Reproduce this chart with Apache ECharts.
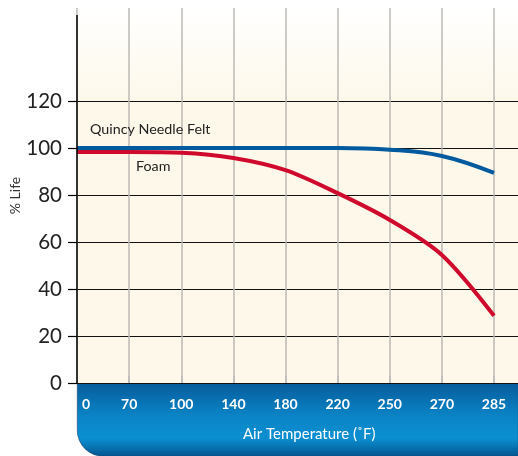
<!DOCTYPE html>
<html><head><meta charset="utf-8">
<script src="https://cdn.jsdelivr.net/npm/echarts@6/dist/echarts.min.js"></script>
<style>html,body{margin:0;padding:0;background:#fff}#c{width:518px;height:456px}</style>
</head><body><div id="c"></div>
<script>
const categories = ['0','70','100','140','180','220','250','270','285'];
const feltLife = [100, 100, 100, 100, 100, 100, 99.3, 96.6, 89.4];
const foamLife = [98.3, 98.3, 98.0, 95.8, 90.6, 80.8, 69.4, 54.5, 28.6];
const yTicks = [0, 20, 40, 60, 80, 100, 120];
const xIdx = categories.map((c, i) => i);

const chart = echarts.init(document.getElementById('c'));
const font = 'Lato, "Noto Sans", sans-serif';
chart.setOption({
  animation: false,
  grid: {
    left: 77, right: 0, top: 8, bottom: 73, show: true, borderWidth: 0,
    outerBoundsMode: 'none', containLabel: false,
    backgroundColor: new echarts.graphic.LinearGradient(0, 0, 0, 1, [
      {offset: 0, color: '#ffffff'}, {offset: 0.25, color: '#fdf8ea'}, {offset: 1, color: '#fdf8ea'}
    ])
  },
  graphic: [
    {type: 'rect', z: -1, left: 77, top: 383, shape: {width: 441, height: 73, r: [0, 0, 0, 26]},
     style: {fill: new echarts.graphic.LinearGradient(0, 0, 0, 1, [
       {offset: 0, color: '#075c9c'}, {offset: 0.45, color: '#0a84c6'},
       {offset: 0.75, color: '#0b8fd1'}, {offset: 1, color: '#04558f'}]),
       stroke: '#1a3f66', lineWidth: 0.6}},
    {type: 'text', z: 5, left: 90, top: 122, style: {text: 'Quincy Needle Felt', font: '14.3px ' + font, fill: '#222'}},
    {type: 'text', z: 5, left: 136, top: 159, style: {text: 'Foam', font: '14.3px ' + font, fill: '#222'}},
    {type: 'text', z: 5, left: 243, top: 427, style: {text: 'Air Temperature (˚F)', font: '15px ' + font, fill: '#ffffff'}}
  ],
  xAxis: {
    type: 'value', min: 0, max: 8.46, interval: 1,
    axisLine: {show: false},
    axisTick: {show: true, inside: true, length: 7, customValues: xIdx, lineStyle: {color: '#bbb', width: 1.5}},
    splitLine: {show: true, lineStyle: {color: '#bdbab4', width: 1.5}},
    axisLabel: {
      customValues: xIdx, margin: 14, color: '#fff', fontSize: 14, fontWeight: 'bold', fontFamily: font,
      formatter: v => v === 0 ? '{f|' + categories[0] + '}' : (categories[v] || ''),
      rich: {f: {color: '#fff', fontSize: 14, fontWeight: 'bold', fontFamily: font, padding: [0, 0, 0, 18]}}
    }
  },
  yAxis: {
    type: 'value', min: 0, max: 159.6, interval: 20,
    name: '% Life', nameLocation: 'middle', nameGap: 55, nameRotate: 90, nameMoveOverlap: false,
    nameTextStyle: {fontSize: 14, color: '#333', fontFamily: font},
    axisLine: {show: false},
    axisTick: {show: true, length: 9, customValues: yTicks, lineStyle: {color: '#000', width: 1.2}},
    splitLine: {show: true, lineStyle: {color: '#111', width: 1.2}},
    axisLabel: {customValues: yTicks, margin: 15, fontSize: 20.5, color: '#222', fontFamily: font}
  },
  series: [
    {type: 'line', name: 'Foam', data: xIdx.map(i => [i, foamLife[i]]), smooth: 0.3, symbol: 'none',
     lineStyle: {color: '#cf0a2c', width: 4},
     markLine: {silent: true, symbol: 'none', label: {show: false},
       lineStyle: {color: '#000', width: 1.5, type: 'solid'},
       data: [[{coord: [0, 0]}, {coord: [0, 156.6]}]]}},
    {type: 'line', name: 'Quincy Needle Felt', data: xIdx.map(i => [i, feltLife[i]]), smooth: 0.4, symbol: 'none',
     lineStyle: {color: '#005a9e', width: 4}}
  ]
});
</script></body></html>
